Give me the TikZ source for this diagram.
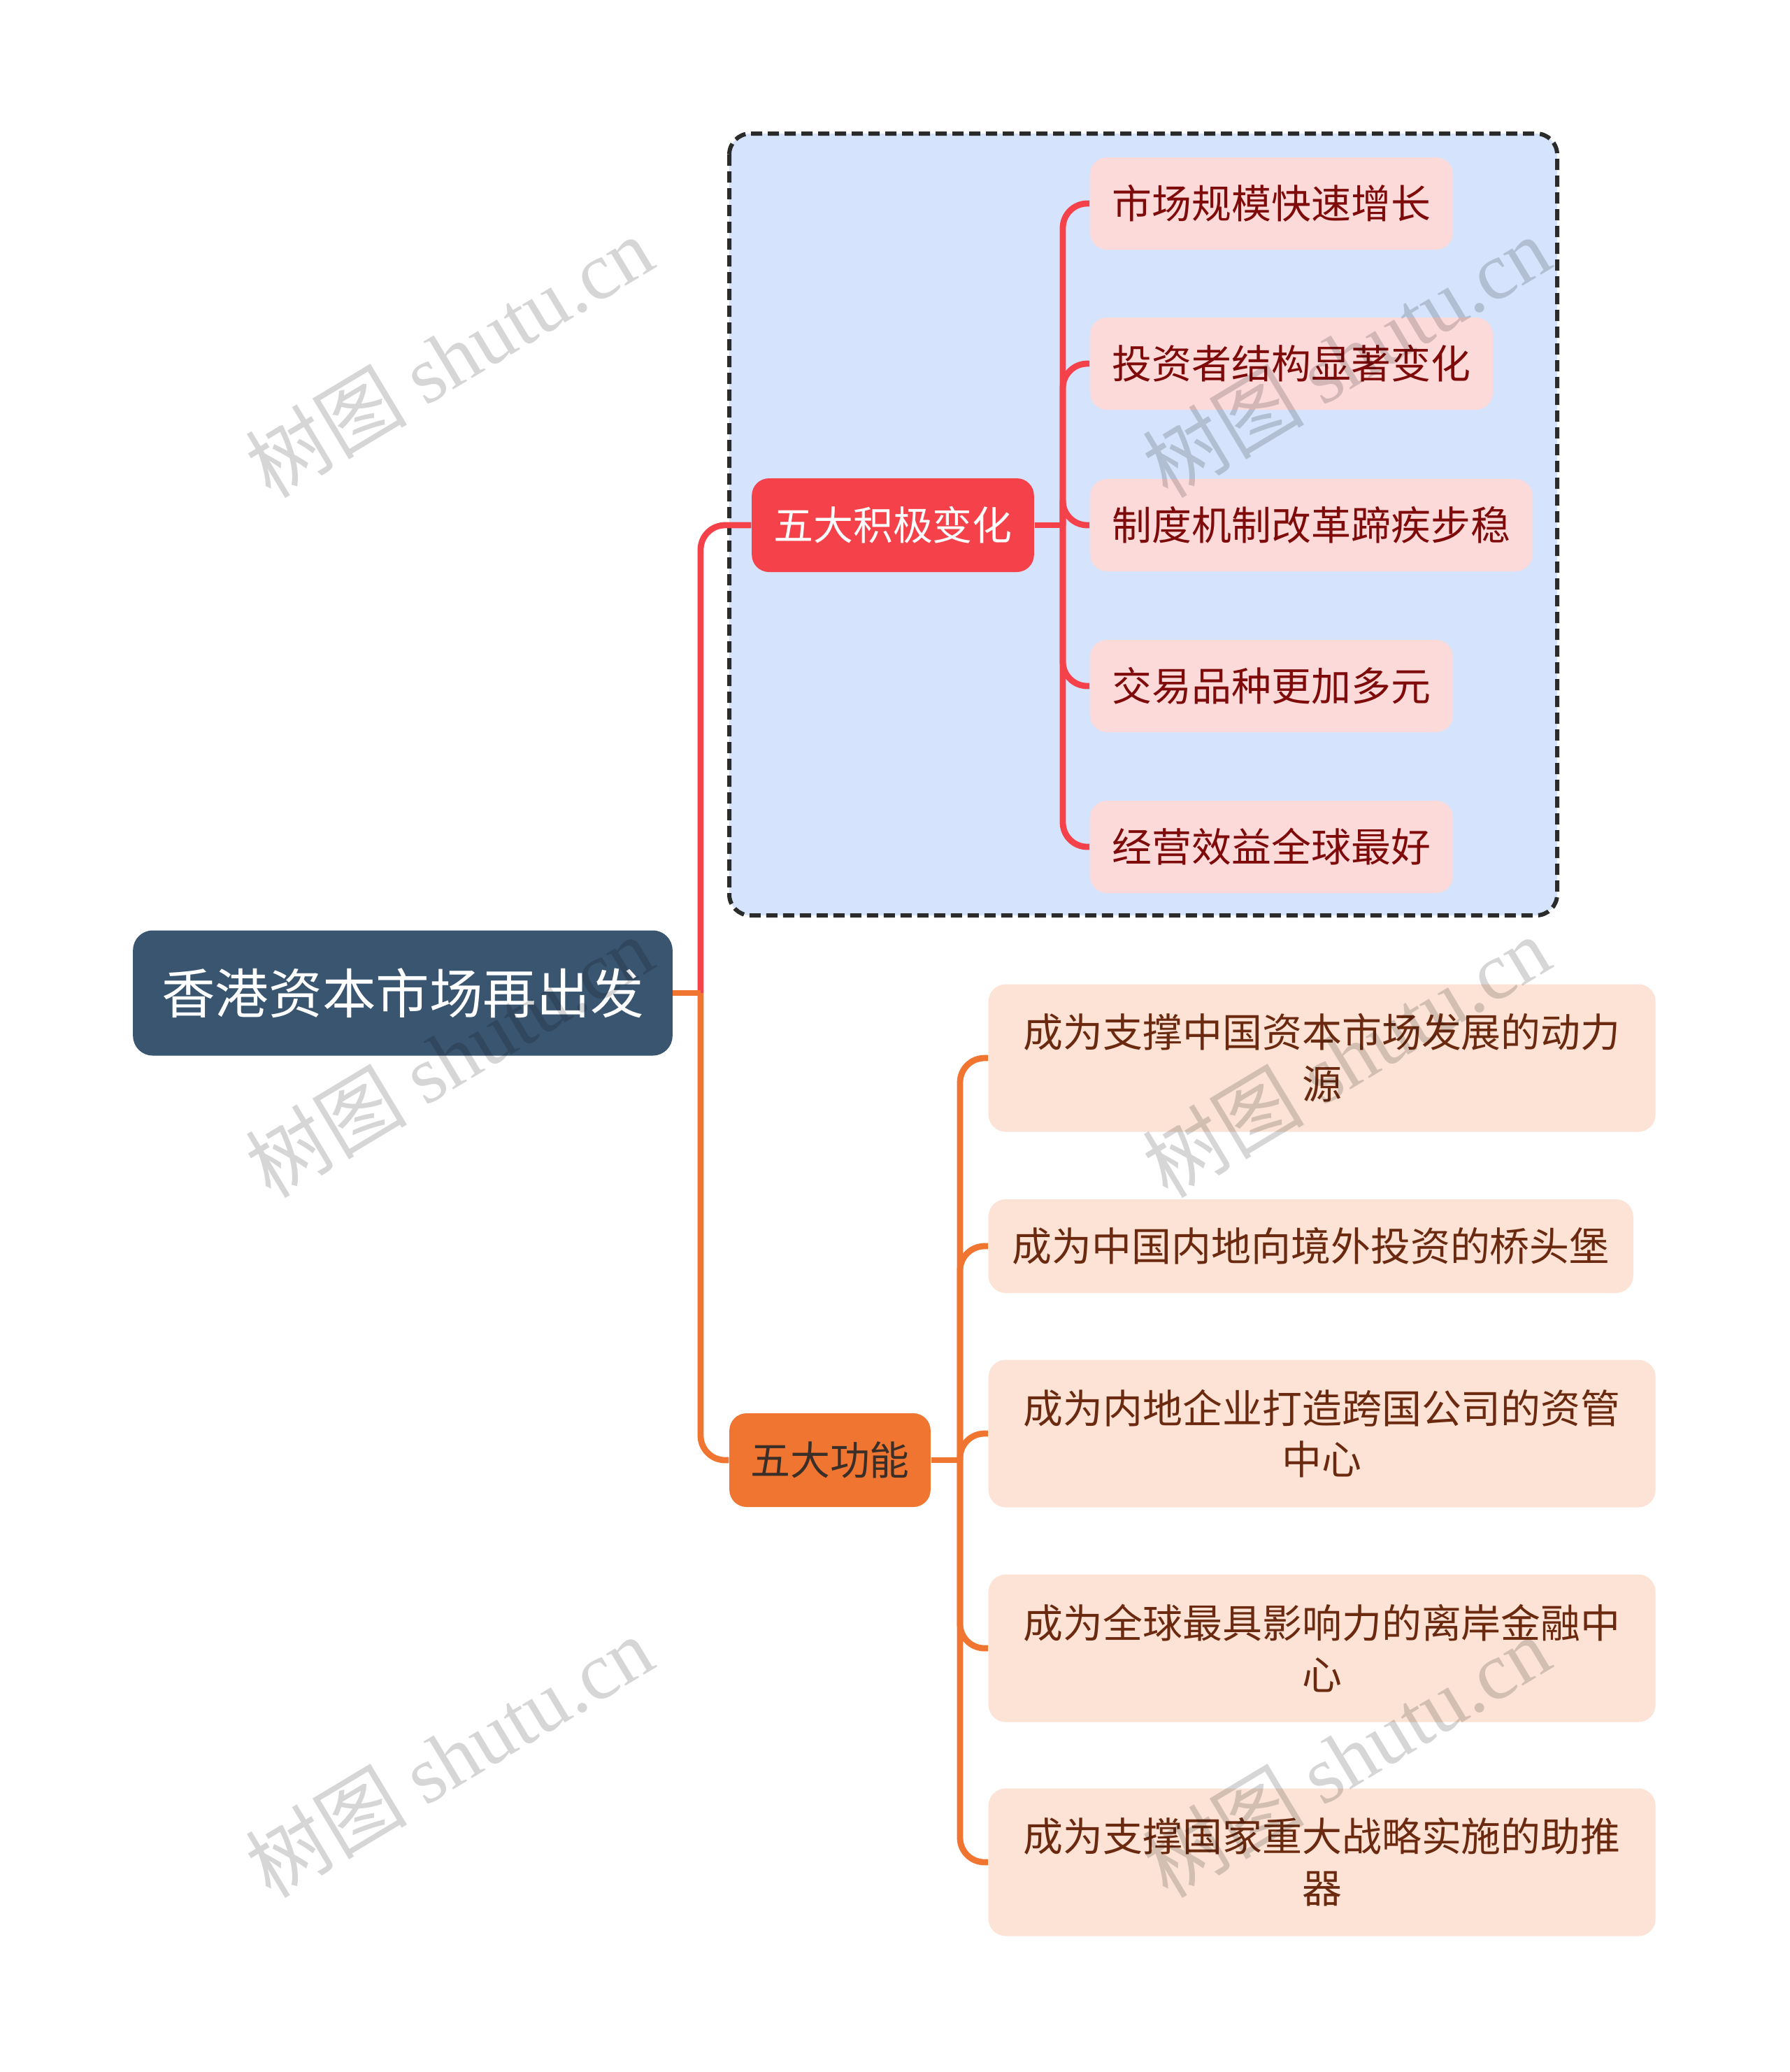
\documentclass[tikz,border=0pt]{standalone}
\usepackage{fontspec}
\setmainfont{Noto Sans CJK SC}
\newfontfamily\wmfont{Liberation Serif}
\usetikzlibrary{positioning}
\definecolor{hkRoot}{HTML}{3A5570}
\definecolor{hkRed}{HTML}{F5424A}
\definecolor{hkRedFill}{HTML}{FCDADA}
\definecolor{hkRedText}{HTML}{7F0A0A}
\definecolor{hkOrange}{HTML}{F07530}
\definecolor{hkOrangeFill}{HTML}{FCE3D5}
\definecolor{hkOrangeText}{HTML}{6B2A10}
\definecolor{hkDark}{HTML}{3A2E28}
\definecolor{hkBlue}{HTML}{D5E4FC}
\definecolor{hkDash}{HTML}{2B2B2B}

\begin{document}
\begin{tikzpicture}[
    txt/.style={font=\fontsize{16.2}{21}\selectfont},
    rootbox/.style={rectangle, rounded corners=8pt, fill=hkRoot, text=white,
                    font=\fontsize{21.8}{28}\selectfont, inner xsep=0.41cm,
                    minimum height=1.79cm},
    chgbox/.style={rectangle, rounded corners=7pt, fill=hkRed, text=white, txt,
                   inner xsep=0.31cm, minimum height=1.34cm},
    funbox/.style={rectangle, rounded corners=7pt, fill=hkOrange, text=hkDark, txt,
                   inner xsep=0.30cm, minimum height=1.34cm},
    chgleaf/.style={rectangle, rounded corners=7pt, fill=hkRedFill, text=hkRedText, txt,
                    inner xsep=0.32cm, minimum height=1.32cm, anchor=west},
    funleaf/.style={rectangle, rounded corners=7pt, fill=hkOrangeFill, text=hkOrangeText, txt,
                    align=center, inner xsep=0.34cm, minimum height=1.34cm, anchor=west},
    tallleaf/.style={funleaf, minimum width=9.54cm, minimum height=2.11cm},
    chgline/.style={draw=hkRed, line width=2.5pt, rounded corners=0.35cm},
    funline/.style={draw=hkOrange, line width=2.5pt, rounded corners=0.35cm},
    wmark/.style={rotate=31, text=black, text opacity=0.16,
                  font=\fontsize{33}{35}\selectfont}
  ]
  \useasboundingbox (0,0) rectangle (25.6,-29.63);

  % dashed frame round the first branch
  \draw[fill=hkBlue, draw=hkDash, line width=0.06cm, rounded corners=0.3cm,
        dash pattern=on 0.16cm off 0.08cm] (10.43,-1.91) rectangle (22.27,-13.09);

  \node[rootbox] (root) at (5.76,-14.20) {香港资本市场再出发};
  \node[chgbox]  (chg)  at (12.77,-7.51) {五大积极变化};
  \node[funbox]  (fun)  at (11.87,-20.88) {五大功能};

  \node[chgleaf] (c1) at (15.58,-2.91)  {市场规模快速增长};
  \node[chgleaf] (c2) at (15.58,-5.20)  {投资者结构显著变化};
  \node[chgleaf] (c3) at (15.58,-7.51)  {制度机制改革蹄疾步稳};
  \node[chgleaf] (c4) at (15.58,-9.81)  {交易品种更加多元};
  \node[chgleaf] (c5) at (15.58,-12.11) {经营效益全球最好};

  \node[tallleaf] (f1) at (14.13,-15.13) {成为支撑中国资本市场发展的动力\\源};
  \node[funleaf]  (f2) at (14.13,-17.82) {成为中国内地向境外投资的桥头堡};
  \node[tallleaf] (f3) at (14.13,-20.50) {成为内地企业打造跨国公司的资管\\中心};
  \node[tallleaf] (f4) at (14.13,-23.57) {成为全球最具影响力的离岸金融中\\心};
  \node[tallleaf] (f5) at (14.13,-26.63) {成为支撑国家重大战略实施的助推\\器};

  % connectors
  \coordinate (rootj) at (10.02,-14.20);
  \coordinate (chgj)  at (15.20,-7.51);
  \coordinate (funj)  at (13.73,-20.88);

  \draw[chgline] (rootj) |- (chg.west);
  \draw[funline] (rootj) |- (fun.west);
  \draw[funline] (root.east) -- (rootj);

  \draw[chgline] (chg.east) -- (chgj);
  \foreach \n in {c1,c2,c3,c4,c5}
    \draw[chgline] (chgj) |- (\n.west);

  \draw[funline] (fun.east) -- (funj);
  \foreach \n in {f1,f2,f3,f4,f5}
    \draw[funline] (funj) |- (\n.west);

  % watermarks
  \foreach \x/\y [count=\i] in {6.42/-5.10, 19.25/-5.10, 6.42/-15.11, 19.25/-15.11, 6.42/-25.12, 19.25/-25.12}
    \node[wmark] (wm\i) at (\x,\y) {树图 {\wmfont shutu.cn}};
\end{tikzpicture}
\end{document}
